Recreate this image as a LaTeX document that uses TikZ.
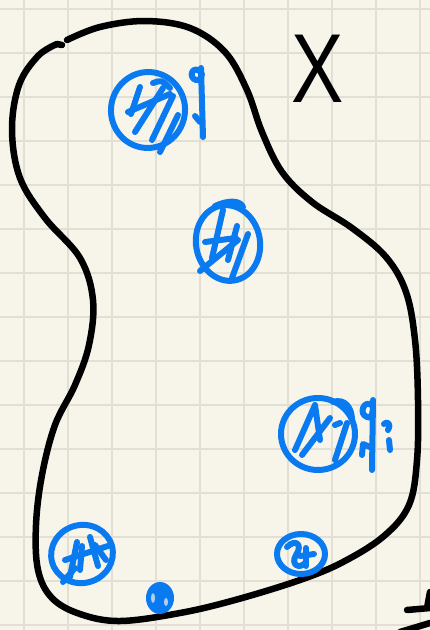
\documentclass[tikz,border=0pt]{standalone}
\usepackage{fontspec}
\setmainfont{Liberation Sans}
\definecolor{paper}{RGB}{247,245,234}
\definecolor{gridc}{RGB}{226,224,212}
\definecolor{ink}{RGB}{10,122,240}
\begin{document}
\begin{tikzpicture}[x=1pt,y=-1pt,
  outline/.style={line width=6.5pt,black,line cap=round,line join=round},
  bluepen/.style={line width=6pt,ink,line cap=round,line join=round},
  gridline/.style={line width=1.2pt,gridc}]
\useasboundingbox (0,0) rectangle (430,630);
\fill[paper] (0,0) rectangle (430,630);
\foreach \k in {0,...,9} \draw[gridline] ({24+44*\k},0) -- ({24+44*\k},630);
\foreach \k in {0,...,14} \draw[gridline] (0,{9+44*\k}) -- (430,{9+44*\k});

% blob
\draw[outline] plot[smooth,tension=0.6] coordinates {
 (67,40) (100,27) (145,21) (190,28) (225,52) (247,90) (262,132) (282,172)
 (312,202) (352,228) (386,257) (406,292) (415,340) (418,400) (417,460)
 (409,505) (384,536) (343,562) (300,580) (235,600) (180,613) (120,621)
 (80,614) (52,598) (38,570) (36,525) (42,475) (55,425) (75,385) (89,345)
 (93,300) (80,258) (45,218) (20,178) (12,130) (19,85) (38,56) (57,44)};
\draw[outline] (57,44) -- (62,45);

% X label
\node[font=\fontsize{98}{98}\selectfont,xscale=0.8,inner sep=0] (xlab) at (318,69) {X};

% circle 1
\draw[bluepen,rotate around={-10:(148,110)}] (148,110) ellipse (37 and 38);
\draw[bluepen] (140,87) -- (131,114);
\draw[bluepen] (128,112) -- (170,94);
\draw[bluepen] (135,132) -- (163,88);
\draw[bluepen] (152,140) -- (173,96);
\draw[bluepen] (160,152) -- (178,115);
\draw[bluepen] (153,83) .. controls (162,80) .. (170,88);
% q annotation 1
\draw[bluepen] (201,72) .. controls (192,64) and (188,78) .. (196,80) .. controls (200,80) .. (202,74);
\draw[bluepen] (201,68) -- (203,137);
\draw[bluepen] (195,116) -- (200,122);

% circle 2
\draw[bluepen,rotate around={10:(228,243)}] (228,243) ellipse (32 and 38);
\draw[bluepen] (215,206) .. controls (228,200) and (240,200) .. (243,207);
\draw[bluepen] (223,210) -- (212,258);
\draw[bluepen] (205,242) -- (236,238);
\draw[bluepen] (237,226) -- (228,260);
\draw[bluepen] (200,271) -- (238,240);
\draw[bluepen] (232,278) -- (248,234);

% circle 3
\draw[bluepen] (318,434) ellipse (37 and 36);
\draw[bluepen] (333,402) .. controls (345,398) and (352,408) .. (352,420);
\draw[bluepen] (295,450) -- (315,405) -- (320,440);
\draw[bluepen] (302,455) -- (330,418);
\draw[bluepen] (335,425) -- (340,423);
\draw[bluepen] (335,460) -- (347,423);
% q i annotation
\draw[bluepen] (373,406) .. controls (364,398) and (358,414) .. (367,417) .. controls (371,418) .. (373,410);
\draw[bluepen] (373,400) -- (372,470);
\draw[bluepen] (362,455) -- (363,444) -- (370,447);
\draw[bluepen] (384,424) .. controls (389,420) and (391,426) .. (388,430);
\draw[bluepen] (389,440) -- (390,450);

% circle 4
\draw[bluepen,rotate around={15:(82,554)}] (82,554) ellipse (31 and 29);
\draw[bluepen] (77,542) -- (70,577);
\draw[bluepen] (65,560) -- (108,546);
\draw[bluepen] (90,537) -- (98,566);
\draw[bluepen] (82,546) -- (80,570);
\draw[bluepen] (95,545) -- (106,560);
\draw[bluepen] (63,582) -- (75,568);

% circle 5
\draw[bluepen] (301,554) ellipse (24 and 20);
\draw[bluepen] (287,547) .. controls (296,538) and (303,545) .. (296,555) .. controls (290,565) and (300,570) .. (306,562);
\draw[bluepen] (306,548) -- (306,566);
\draw[bluepen] (300,556) -- (314,554);

% small blob
\fill[ink] (160,598) ellipse (14 and 16);
\fill[paper!70!ink] (153,598) ellipse (2 and 5);
\fill[paper!70!ink] (166,602) ellipse (2 and 4);

% bottom right fragment
\draw[outline] (430,592) -- (427,608);
\draw[outline] (407,610) -- (430,608);
\draw[outline] (400,632) -- (430,623);
\end{tikzpicture}
\end{document}
